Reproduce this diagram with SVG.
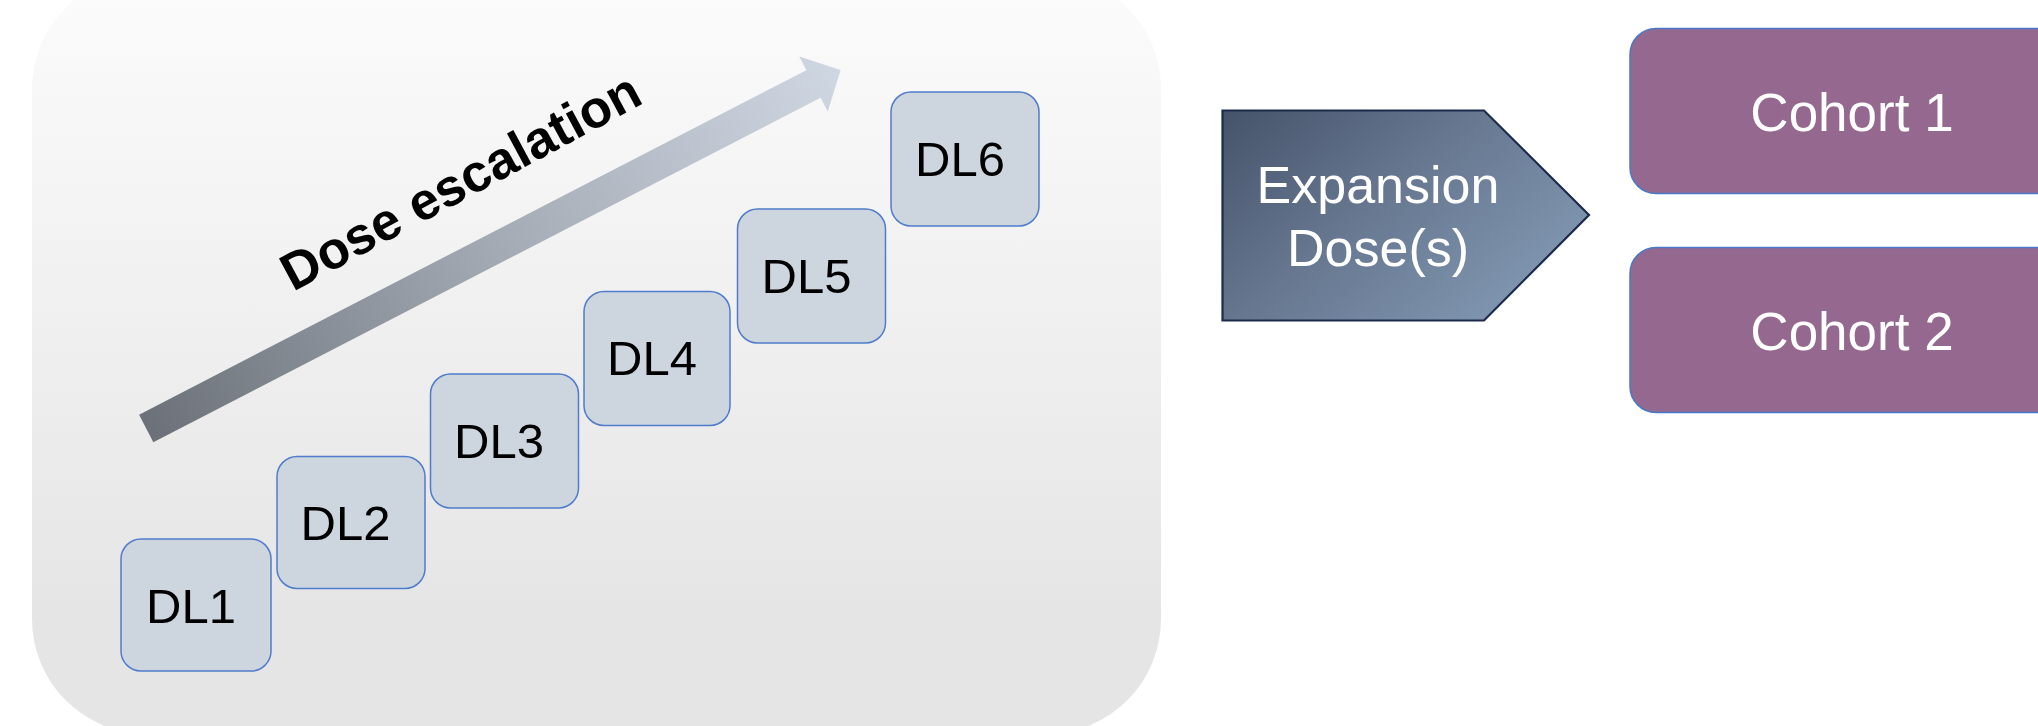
<svg xmlns="http://www.w3.org/2000/svg" width="2038" height="726" viewBox="0 0 2038 726">
  <defs>
    <linearGradient id="panelFill" x1="0" y1="0" x2="0" y2="620" gradientUnits="userSpaceOnUse">
      <stop offset="0" stop-color="#fbfbfb"/>
      <stop offset="1" stop-color="#e5e5e5"/>
    </linearGradient>
    <linearGradient id="arrowFill" x1="0" y1="0" x2="782" y2="0" gradientUnits="userSpaceOnUse">
      <stop offset="0" stop-color="#6c7179"/>
      <stop offset="0.5" stop-color="#a3aab4"/>
      <stop offset="1" stop-color="#cfd7e2"/>
    </linearGradient>
    <linearGradient id="pentFill" x1="1235" y1="100" x2="1450" y2="345" gradientUnits="userSpaceOnUse">
      <stop offset="0" stop-color="#45536a"/>
      <stop offset="0.5" stop-color="#66768f"/>
      <stop offset="1" stop-color="#7e93ad"/>
    </linearGradient>
    <style>
      .dl rect { fill: #cdd5df; stroke: #4f7ccb; stroke-width: 1.5; }
      .dl text { font-family: "Liberation Sans", Arial, sans-serif; font-size: 49px; fill: #000; text-anchor: middle; }
      .cohort rect { fill: #95698f; stroke: #4a78c8; stroke-width: 1.5; }
      .light { font-family: "Liberation Sans", Arial, sans-serif; fill: #ffffff; text-anchor: middle; }
    </style>
  </defs>

  <!-- escalation panel -->
  <g id="panel">
    <rect x="32" y="-26" width="1129" height="760" rx="115" ry="115" fill="url(#panelFill)"/>
  </g>

  <!-- rising arrow and its label -->
  <g id="escalation-arrow" transform="translate(146.2,428.4) rotate(-27.3)">
    <polygon points="0,-15.5 751,-15.5 751,-31 781.5,0 751,31 751,15.5 0,15.5" fill="url(#arrowFill)"/>
  </g>
  <g id="escalation-label">
    <text x="293" y="292" transform="rotate(-28.3 293 292)" font-family="Liberation Sans, Arial, sans-serif" font-weight="bold" font-size="52.5" fill="#000">Dose escalation</text>
  </g>

  <!-- dose levels -->
  <g id="dl1" class="dl">
    <rect x="121" y="539" width="150" height="132" rx="20"/>
    <text x="191" y="622.5">DL1</text>
  </g>
  <g id="dl2" class="dl">
    <rect x="277" y="456.5" width="148" height="132" rx="20"/>
    <text x="345.5" y="540">DL2</text>
  </g>
  <g id="dl3" class="dl">
    <rect x="430.5" y="374" width="148" height="134" rx="20"/>
    <text x="499" y="457.5">DL3</text>
  </g>
  <g id="dl4" class="dl">
    <rect x="584" y="291.5" width="146" height="134" rx="20"/>
    <text x="652" y="375">DL4</text>
  </g>
  <g id="dl5" class="dl">
    <rect x="737.5" y="209" width="148" height="134" rx="20"/>
    <text x="806.5" y="292.5">DL5</text>
  </g>
  <g id="dl6" class="dl">
    <rect x="891" y="92" width="148" height="134" rx="20"/>
    <text x="960" y="175.5">DL6</text>
  </g>

  <!-- expansion dose pentagon -->
  <g id="expansion">
    <polygon points="1222.5,110.5 1484,110.5 1589,215 1484,320.5 1222.5,320.5" fill="url(#pentFill)" stroke="#1c2b4b" stroke-width="2.2"/>
    <text class="light" x="1378" y="202.5" font-size="52">Expansion</text>
    <text class="light" x="1378" y="265.5" font-size="52">Dose(s)</text>
  </g>

  <!-- expansion cohorts -->
  <g id="cohort1" class="cohort">
    <rect x="1630" y="28.5" width="470" height="165" rx="26"/>
    <text class="light" x="1852" y="130.5" font-size="53">Cohort 1</text>
  </g>
  <g id="cohort2" class="cohort">
    <rect x="1630" y="247.5" width="470" height="165" rx="26"/>
    <text class="light" x="1852" y="349.5" font-size="53">Cohort 2</text>
  </g>

  <g id="connectors"/>
</svg>
